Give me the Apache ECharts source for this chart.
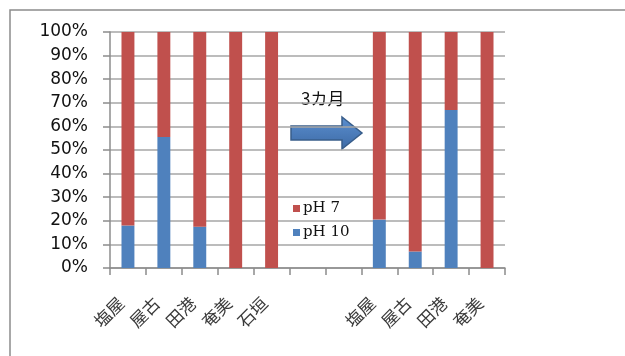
<!DOCTYPE html>
<html><head><meta charset="utf-8">
<script src="https://cdn.jsdelivr.net/npm/echarts@6/dist/echarts.min.js"></script>
<style>html,body{margin:0;padding:0;background:#fff}#c{width:625px;height:356px}</style>
</head><body><div id="c"></div>
<script>
const categories = ['塩屋','屋古','田港','奄美','石垣','','','塩屋','屋古','田港','奄美'];
const ph10 = [18, 55.5, 17.5, 0, 0, null, null, 20.5, 7, 67, 0];
const ph7 = [82, 44.5, 82.5, 100, 100, null, null, 79.5, 93, 33, 100];
const yTicks = [0,10,20,30,40,50,60,70,80,90,100];
const noteText = '3カ月';

const chart = echarts.init(document.getElementById('c'), null, {renderer:'canvas'});
chart.setOption({
  backgroundColor:'#fff',
  animation:false,
  grid:{left:110, right:120, top:32, bottom:88, containLabel:false},
  legend:{
    orient:'vertical', left:288, top:196, itemWidth:7, itemHeight:7, itemGap:9,
    icon:'rect', data:['pH 7','pH 10'],
    textStyle:{fontFamily:'DejaVu Serif', fontSize:15, color:'#111', padding:[0,0,0,-2]}
  },
  xAxis:{
    type:'category', data:categories, boundaryGap:true,
    axisLine:{lineStyle:{color:'#8c8c8c', width:1.5}},
    axisTick:{show:true, length:7, lineStyle:{color:'#8c8c8c', width:1.5}},
    axisLabel:{rotate:45, interval:0, margin:25, padding:[0,10,0,0], fontFamily:'Noto Sans CJK JP', fontSize:17, color:'#3a3a3a'}
  },
  yAxis:{
    type:'value', min:0, max:100, interval:10,
    axisLine:{show:true, lineStyle:{color:'#8c8c8c', width:1.5}},
    axisTick:{show:true, length:7, lineStyle:{color:'#8c8c8c', width:1.5}},
    splitLine:{lineStyle:{color:'#a6a6a6', width:1.5}},
    axisLabel:{margin:22, fontFamily:'DejaVu Sans', fontSize:17, color:'#111',
      formatter:v => yTicks.includes(v) ? v + '%' : ''}
  },
  series:[
    {name:'pH 10', type:'bar', stack:'s', data:ph10, barWidth:'36%', itemStyle:{color:'#4F81BD'}},
    {name:'pH 7', type:'bar', stack:'s', data:ph7, barWidth:'36%', itemStyle:{color:'#C0504D'}}
  ],
  graphic:[
    {type:'polyline', shape:{points:[[625,10],[10,10],[10,356]]}, style:{stroke:'#8c8c8c', lineWidth:1.5, fill:null}},
    {type:'polygon', shape:{points:[[291,126],[342,126],[342,117],[362,133],[342,149],[342,140],[291,140]]},
      style:{fill:new echarts.graphic.LinearGradient(0,0,0,1,[{offset:0,color:'#5b8fd0'},{offset:1,color:'#3d6aa5'}]), stroke:'#385D8A', lineWidth:1.5}},
    {type:'text', left:301, top:90, style:{text:noteText, fontFamily:'Noto Sans CJK JP', fontSize:17, fill:'#111'}}
  ]
});
</script></body></html>
